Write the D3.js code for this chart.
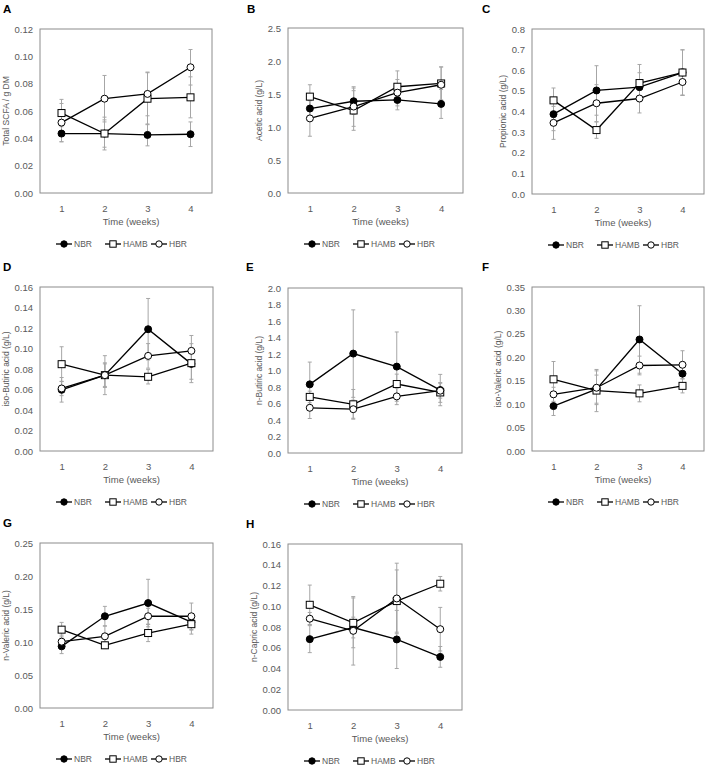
<!DOCTYPE html>
<html><head><meta charset="utf-8">
<script src="https://cdn.jsdelivr.net/npm/d3@7"></script>
<style>body{margin:0;background:#fff}svg{display:block}</style>
</head><body><svg id="c" width="708" height="766"></svg>
<script>
// ---------- data ----------
const weeks = [1, 2, 3, 4];
const seriesNames = ["NBR", "HAMB", "HBR"];

const A_NBR = [0.0435, 0.0435, 0.0425, 0.043], A_NBR_err = [0.006, 0.010, 0.008, 0.009];
const A_HAMB = [0.0585, 0.0435, 0.069, 0.070], A_HAMB_err = [0.010, 0.012, 0.019, 0.015];
const A_HBR = [0.0515, 0.069, 0.0725, 0.092], A_HBR_err = [0.014, 0.017, 0.016, 0.013];
const A_ticks = [0, 0.02, 0.04, 0.06, 0.08, 0.10, 0.12];

const B_NBR = [1.28, 1.39, 1.41, 1.35], B_NBR_err = [0.12, 0.20, 0.15, 0.22];
const B_HAMB = [1.46, 1.25, 1.61, 1.66], B_HAMB_err = [0.18, 0.30, 0.24, 0.25];
const B_HBR = [1.13, 1.31, 1.52, 1.64], B_HBR_err = [0.27, 0.30, 0.20, 0.27];
const B_ticks = [0, 0.5, 1.0, 1.5, 2.0, 2.5];

const C_NBR = [0.387, 0.502, 0.518, 0.589], C_NBR_err = [0.08, 0.12, 0.07, 0.11];
const C_HAMB = [0.454, 0.310, 0.538, 0.589], C_HAMB_err = [0.06, 0.04, 0.09, 0.11];
const C_HBR = [0.345, 0.440, 0.463, 0.543], C_HBR_err = [0.08, 0.09, 0.07, 0.065];
const C_ticks = [0, 0.1, 0.2, 0.3, 0.4, 0.5, 0.6, 0.7, 0.8];

const D_NBR = [0.0597, 0.074, 0.1188, 0.085], D_NBR_err = [0.012, 0.012, 0.030, 0.015];
const D_HAMB = [0.0847, 0.074, 0.0724, 0.0857], D_HAMB_err = [0.017, 0.019, 0.007, 0.019];
const D_HBR = [0.061, 0.074, 0.0928, 0.0977], D_HBR_err = [0.007, 0.011, 0.012, 0.015];
const D_ticks = [0, 0.02, 0.04, 0.06, 0.08, 0.10, 0.12, 0.14, 0.16];

const E_NBR = [0.832, 1.205, 1.047, 0.763], E_NBR_err = [0.27, 0.53, 0.42, 0.19];
const E_HAMB = [0.680, 0.590, 0.836, 0.734], E_HAMB_err = [0.07, 0.18, 0.12, 0.12];
const E_HBR = [0.548, 0.531, 0.686, 0.755], E_HBR_err = [0.13, 0.11, 0.10, 0.09];
const E_ticks = [0, 0.2, 0.4, 0.6, 0.8, 1.0, 1.2, 1.4, 1.6, 1.8, 2.0];

const F_NBR = [0.0958, 0.132, 0.238, 0.165], F_NBR_err = [0.02, 0.03, 0.072, 0.02];
const F_HAMB = [0.153, 0.129, 0.123, 0.139], F_HAMB_err = [0.038, 0.045, 0.018, 0.015];
const F_HBR = [0.121, 0.135, 0.1825, 0.184], F_HBR_err = [0.015, 0.036, 0.02, 0.03];
const F_ticks = [0, 0.05, 0.10, 0.15, 0.20, 0.25, 0.30, 0.35];

const G_NBR = [0.0934, 0.139, 0.159, 0.130], G_NBR_err = [0.011, 0.015, 0.036, 0.012];
const G_HAMB = [0.1187, 0.095, 0.1136, 0.127], G_HAMB_err = [0.011, 0.005, 0.013, 0.015];
const G_HBR = [0.1005, 0.1086, 0.139, 0.139], G_HBR_err = [0.010, 0.016, 0.012, 0.020];
const G_ticks = [0, 0.05, 0.10, 0.15, 0.20, 0.25];

const H_NBR = [0.0683, 0.0795, 0.068, 0.0512], H_NBR_err = [0.013, 0.010, 0.028, 0.010];
const H_HAMB = [0.1014, 0.084, 0.105, 0.1217], H_HAMB_err = [0.019, 0.024, 0.030, 0.007];
const H_HBR = [0.088, 0.0763, 0.1075, 0.0779], H_HBR_err = [0.006, 0.033, 0.034, 0.021];
const H_ticks = [0, 0.02, 0.04, 0.06, 0.08, 0.10, 0.12, 0.14, 0.16];

const panelLetters = ["A", "B", "C", "D", "E", "F", "G", "H"];
const yTitles = ["Total SCFA / g DM", "Acetic acid (g/L)", "Propionic acid (g/L)", "iso-Butiric acid (g/L)",
  "n-Butiric acid (g/L)", "iso-Valeric acid (g/L)", "n-Valeric acid (g/L)", "n-Capric  acid (g/L)"];
const xTitle = "Time (weeks)";
const tickDecimals = [2, 1, 1, 2, 1, 2, 2, 2];

// ---------- layout ----------
const frames = [
  [40, 212, 29, 193], [288, 463, 28, 193], [532, 704, 29, 194],
  [40, 213, 287, 451], [288, 462, 288, 453], [532, 704, 287, 451],
  [40, 213, 543, 708], [288, 462, 544, 710]
];
const letterPos = [[3, 13], [247, 13], [482, 13], [3, 271], [246, 271], [482, 271], [3, 527], [246, 528]];

const panelData = [
  [A_NBR, A_HAMB, A_HBR, A_NBR_err, A_HAMB_err, A_HBR_err, A_ticks],
  [B_NBR, B_HAMB, B_HBR, B_NBR_err, B_HAMB_err, B_HBR_err, B_ticks],
  [C_NBR, C_HAMB, C_HBR, C_NBR_err, C_HAMB_err, C_HBR_err, C_ticks],
  [D_NBR, D_HAMB, D_HBR, D_NBR_err, D_HAMB_err, D_HBR_err, D_ticks],
  [E_NBR, E_HAMB, E_HBR, E_NBR_err, E_HAMB_err, E_HBR_err, E_ticks],
  [F_NBR, F_HAMB, F_HBR, F_NBR_err, F_HAMB_err, F_HBR_err, F_ticks],
  [G_NBR, G_HAMB, G_HBR, G_NBR_err, G_HAMB_err, G_HBR_err, G_ticks],
  [H_NBR, H_HAMB, H_HBR, H_NBR_err, H_HAMB_err, H_HBR_err, H_ticks]
];

const svg = d3.select("#c");
const FONT = "'Liberation Sans', Arial, sans-serif";
const textCol = "#595959";

function drawMarker(g, kind, x, y, r) {
  if (kind === "NBR") {
    g.append("circle").attr("cx", x).attr("cy", y).attr("r", r).attr("fill", "#000").attr("stroke", "#000");
  } else if (kind === "HAMB") {
    g.append("rect").attr("x", x - r).attr("y", y - r).attr("width", 2 * r).attr("height", 2 * r)
      .attr("fill", "#fff").attr("stroke", "#000").attr("stroke-width", 1);
  } else {
    g.append("circle").attr("cx", x).attr("cy", y).attr("r", r).attr("fill", "#fff").attr("stroke", "#000").attr("stroke-width", 1);
  }
}

panelData.forEach((pd, i) => {
  const [l, r, t, b] = frames[i];
  const ticks = pd[6];
  const g = svg.append("g");
  const x = d3.scalePoint().domain(weeks).range([l, r]).padding(0.5);
  const y = d3.scaleLinear().domain([0, d3.max(ticks)]).range([b, t]);

  // panel letter
  g.append("text").attr("x", letterPos[i][0]).attr("y", letterPos[i][1])
    .attr("font-family", FONT).attr("font-weight", "bold").attr("font-size", 11.5).attr("fill", "#000")
    .text(panelLetters[i]);

  // frame
  g.append("rect").attr("x", l).attr("y", t).attr("width", r - l).attr("height", b - t)
    .attr("fill", "none").attr("stroke", "#8c8c8c").attr("stroke-width", 1);

  // y axis
  const ya = g.append("g").attr("transform", `translate(${l - 4},0)`)
    .call(d3.axisLeft(y).tickValues(ticks).tickSize(0).tickFormat(d3.format("." + tickDecimals[i] + "f")));
  ya.select(".domain").remove();
  ya.selectAll("text").attr("font-family", FONT).attr("font-size", 9.5).attr("fill", textCol);

  // x axis
  const xa = g.append("g").attr("transform", `translate(0,${b + 9})`)
    .call(d3.axisBottom(x).tickSize(0));
  xa.select(".domain").remove();
  xa.selectAll("text").attr("font-family", FONT).attr("font-size", 9.5).attr("fill", textCol);

  // axis titles
  g.append("text").attr("x", (l + r) / 2 + 5).attr("y", b + 32).attr("text-anchor", "middle")
    .attr("font-family", FONT).attr("font-size", 9.5).attr("fill", textCol).text(xTitle);
  const yx = l - (tickDecimals[i] === 2 ? 34 : 29);
  g.append("text").attr("transform", `translate(${yx},${(t + b) / 2}) rotate(-90)`)
    .attr("text-anchor", "middle").attr("dy", "0.35em")
    .attr("font-family", FONT).attr("font-size", 8.5).attr("fill", textCol).text(yTitles[i]);

  const vals = [pd[0], pd[1], pd[2]];
  const errs = [pd[3], pd[4], pd[5]];

  // error bars
  vals.forEach((s, k) => {
    s.forEach((v, j) => {
      const xx = x(weeks[j]);
      const y1 = y(v + errs[k][j]), y0 = y(Math.max(0, v - errs[k][j]));
      g.append("line").attr("x1", xx).attr("x2", xx).attr("y1", y1).attr("y2", y0)
        .attr("stroke", "#a6a6a6").attr("stroke-width", 1);
      [y1, y0].forEach(yy => g.append("line").attr("x1", xx - 2).attr("x2", xx + 2).attr("y1", yy).attr("y2", yy)
        .attr("stroke", "#a6a6a6").attr("stroke-width", 1));
    });
  });

  // lines + markers
  const line = d3.line().x((d, j) => x(weeks[j])).y(d => y(d));
  vals.forEach((s, k) => {
    g.append("path").attr("d", line(s)).attr("fill", "none").attr("stroke", "#000").attr("stroke-width", 1.3);
  });
  vals.forEach((s, k) => {
    s.forEach((v, j) => drawMarker(g, seriesNames[k], x(weeks[j]), y(v), 3.5));
  });

  // legend
  const ly = b + 51;
  const offs = [0, 49, 95];
  seriesNames.forEach((n, k) => {
    const x0 = l + 16 + offs[k];
    g.append("line").attr("x1", x0).attr("x2", x0 + 16).attr("y1", ly).attr("y2", ly)
      .attr("stroke", "#000").attr("stroke-width", 1.3);
    drawMarker(g, n, x0 + 8, ly, 3.2);
    g.append("text").attr("x", x0 + 18).attr("y", ly).attr("dy", "0.35em")
      .attr("font-family", FONT).attr("font-size", 8.5).attr("fill", textCol).text(n);
  });
});
</script>
</body></html>
